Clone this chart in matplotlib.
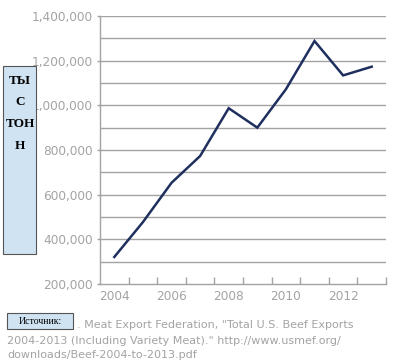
import matplotlib
matplotlib.use('Agg')
import matplotlib.pyplot as plt
from matplotlib.patches import Rectangle
from matplotlib.ticker import FuncFormatter

# данные: экспорт говядины США, 2004-2013
years = [2004, 2005, 2006, 2007, 2008, 2009, 2010, 2011, 2012, 2013]
exports = [321000, 477000, 653000, 773000, 987000, 900000, 1072000, 1288000, 1134000, 1173000]
year_labels = [2004, 2006, 2008, 2010, 2012]
y_ticks = list(range(200000, 1400001, 200000))

GRAY = '#a3a3a3'
NAVY = '#1f2f5e'
BOX = '#cfe3f3'

fig = plt.figure(figsize=(4.09, 3.62), dpi=100)
fig.patch.set_facecolor('white')
ax = fig.add_axes([0.2445, 0.2155, 0.6993, 0.7403])

# сетка через 100 000
for v in range(300000, 1400001, 100000):
    ax.axhline(v, color=GRAY, lw=1.0, zorder=1)

ax.plot(years, exports, color=NAVY, lw=1.8, zorder=3, solid_joinstyle='miter')

ax.set_xlim(2003.5, 2013.5)
ax.set_ylim(200000, 1400000)

ax.set_yticks(y_ticks)
ax.yaxis.set_major_formatter(FuncFormatter(lambda v, p: f'{int(v):,}'))
ax.tick_params(axis='y', length=2, width=1, color=GRAY, labelcolor=GRAY,
               labelsize=8.7, pad=3)

ax.set_xticks(year_labels)
ax.set_xticks([y + 0.5 for y in years], minor=True)
ax.tick_params(axis='x', which='major', length=0, labelcolor=GRAY,
               labelsize=8.7, pad=4)
ax.tick_params(axis='x', which='minor', direction='in', length=5, width=1,
               color=GRAY)

for s in ['top', 'right']:
    ax.spines[s].set_visible(False)
for s in ['left', 'bottom']:
    ax.spines[s].set_color(GRAY)
    ax.spines[s].set_linewidth(1.0)

# подпись оси в голубой рамке
fig.patches.append(Rectangle((3 / 409, 1 - 254 / 362), 33 / 409, 188 / 362,
                             transform=fig.transFigure, facecolor=BOX,
                             edgecolor='#555555', lw=0.8))
for txt, yy in [('ТЫ', 81), ('С', 102), ('ТОН', 124), ('Н', 146)]:
    fig.text(20 / 409, 1 - yy / 362, txt, ha='center', va='center',
             family='Liberation Serif', fontweight='bold', fontsize=9.5,
             color='black')

# источник
fig.patches.append(Rectangle((7 / 409, 1 - 329 / 362), 66 / 409, 16 / 362,
                             transform=fig.transFigure, facecolor=BOX,
                             edgecolor='#555555', lw=0.8))
fig.text(40 / 409, 1 - 321 / 362, 'Источник:', ha='center', va='center',
         family='Liberation Serif', fontsize=7, color='black')

fig.text(77 / 409, 1 - 325 / 362, '. Meat Export Federation, "Total U.S. Beef Exports',
         ha='left', va='center', fontsize=8.0, color=GRAY)
fig.text(7 / 409, 1 - 341 / 362, '2004-2013 (Including Variety Meat)." http://www.usmef.org/',
         ha='left', va='center', fontsize=8.0, color=GRAY)
fig.text(7 / 409, 1 - 355 / 362, 'downloads/Beef-2004-to-2013.pdf',
         ha='left', va='center', fontsize=8.0, color=GRAY)

fig.savefig('out.png', dpi=100, facecolor='white')
